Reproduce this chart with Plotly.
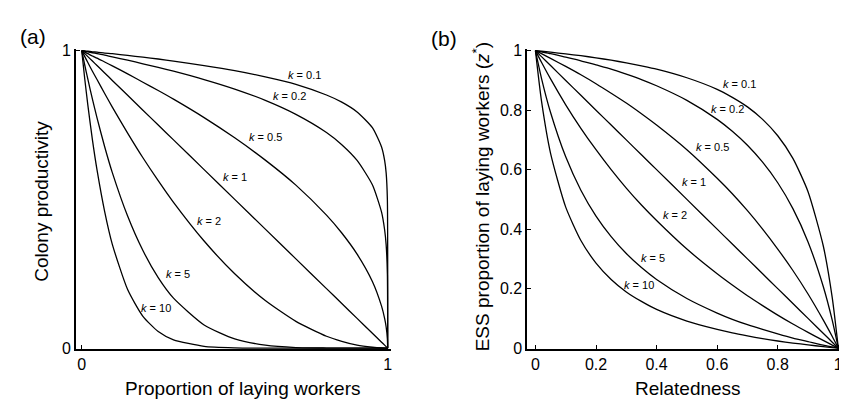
import plotly.graph_objects as go

# ---------------- data ----------------
k_labels = ["0.1", "0.2", "0.5", "1", "2", "5", "10"]

# panel (a): colony productivity vs proportion of laying workers
prop_laying = [0, 0.01, 0.02, 0.035, 0.05, 0.075, 0.1, 0.15, 0.2, 0.25, 0.3, 0.4, 0.5,
               0.6, 0.7, 0.8, 0.85, 0.9, 0.95, 0.98, 0.99, 0.995, 0.999, 1]
prod_k01 = [1, 0.999, 0.998, 0.996, 0.995, 0.992, 0.990, 0.984, 0.978, 0.972, 0.965, 0.950, 0.933,
            0.912, 0.887, 0.851, 0.827, 0.794, 0.741, 0.676, 0.631, 0.589, 0.501, 0]
prod_k02 = [1, 0.998, 0.996, 0.993, 0.990, 0.985, 0.979, 0.968, 0.956, 0.944, 0.931, 0.903, 0.871,
            0.833, 0.786, 0.725, 0.684, 0.631, 0.549, 0.457, 0.398, 0.347, 0.251, 0]
prod_k05 = [1, 0.995, 0.990, 0.982, 0.975, 0.962, 0.949, 0.922, 0.894, 0.866, 0.837, 0.775, 0.707,
            0.632, 0.548, 0.447, 0.387, 0.316, 0.224, 0.141, 0.100, 0.071, 0.032, 0]
prod_k1 = [1, 0.99, 0.98, 0.965, 0.95, 0.925, 0.9, 0.85, 0.8, 0.75, 0.7, 0.6, 0.5,
           0.4, 0.3, 0.2, 0.15, 0.1, 0.05, 0.02, 0.01, 0.005, 0.001, 0]
prod_k2 = [1, 0.980, 0.960, 0.931, 0.903, 0.856, 0.810, 0.723, 0.640, 0.563, 0.490, 0.360, 0.250,
           0.160, 0.090, 0.040, 0.023, 0.010, 0.003, 0.0004, 0.0001, 0, 0, 0]
prod_k5 = [1, 0.951, 0.904, 0.837, 0.774, 0.677, 0.590, 0.444, 0.328, 0.237, 0.168, 0.078, 0.031,
           0.010, 0.002, 0.0003, 0, 0, 0, 0, 0, 0, 0, 0]
prod_k10 = [1, 0.904, 0.817, 0.700, 0.599, 0.459, 0.349, 0.197, 0.107, 0.056, 0.028, 0.006, 0.001,
            0, 0, 0, 0, 0, 0, 0, 0, 0, 0, 0]

# panel (b): ESS proportion of laying workers vs relatedness
relatedness = [0, 0.02, 0.05, 0.1, 0.15, 0.2, 0.25, 0.3, 0.35, 0.4, 0.5, 0.6, 0.65, 0.7,
               0.75, 0.8, 0.85, 0.9, 0.95, 0.98, 1]
ess_k01 = [1, 0.998, 0.995, 0.989, 0.983, 0.976, 0.968, 0.959, 0.949, 0.938, 0.909, 0.870, 0.843,
           0.811, 0.769, 0.714, 0.638, 0.526, 0.345, 0.169, 0]
ess_k02 = [1, 0.996, 0.990, 0.978, 0.966, 0.952, 0.938, 0.921, 0.903, 0.882, 0.833, 0.769, 0.729,
           0.682, 0.625, 0.556, 0.469, 0.357, 0.208, 0.093, 0]
ess_k05 = [1, 0.990, 0.974, 0.947, 0.919, 0.889, 0.857, 0.824, 0.788, 0.750, 0.667, 0.571, 0.519,
           0.462, 0.400, 0.333, 0.261, 0.182, 0.095, 0.039, 0]
ess_k1 = [1, 0.98, 0.95, 0.9, 0.85, 0.8, 0.75, 0.7, 0.65, 0.6, 0.5, 0.4, 0.35,
          0.3, 0.25, 0.2, 0.15, 0.1, 0.05, 0.02, 0]
ess_k2 = [1, 0.961, 0.905, 0.818, 0.739, 0.667, 0.600, 0.538, 0.481, 0.429, 0.333, 0.250, 0.212,
          0.176, 0.143, 0.111, 0.081, 0.053, 0.026, 0.010, 0]
ess_k5 = [1, 0.907, 0.792, 0.643, 0.531, 0.444, 0.375, 0.318, 0.271, 0.231, 0.167, 0.118, 0.097,
          0.079, 0.063, 0.048, 0.034, 0.022, 0.010, 0.004, 0]
ess_k10 = [1, 0.831, 0.655, 0.474, 0.362, 0.286, 0.231, 0.189, 0.157, 0.130, 0.091, 0.063, 0.051,
           0.041, 0.032, 0.024, 0.017, 0.011, 0.005, 0.002, 0]

ticks_a = [0, 1]
ticks_b = [0, 0.2, 0.4, 0.6, 0.8, 1]
ticktext_b = ["0", "0.2", "0.4", "0.6", "0.8", "1"]

# label pixel positions (layout only)
label_pos_a = [(298, 62), (282, 84), (258, 127), (228, 168), (202, 214), (171, 269), (149, 304)]
label_pos_b = [(734, 72), (722, 98), (707, 137), (688, 173), (669, 208), (647, 252), (633, 280)]

# ---------------- figure ----------------
W, H = 847, 404


def px(x):
    return x / W


def py(y):
    return 1 - y / H


FONT = "Liberation Sans, Arial, Helvetica, sans-serif"
line_style = dict(color="black", width=1.3, shape="spline", smoothing=0.6)

fig = go.Figure()
for ys in [prod_k01, prod_k02, prod_k05, prod_k1, prod_k2, prod_k5, prod_k10]:
    fig.add_trace(go.Scatter(x=prop_laying, y=ys, mode="lines", line=line_style,
                             xaxis="x", yaxis="y", showlegend=False, hoverinfo="skip"))
for ys in [ess_k01, ess_k02, ess_k05, ess_k1, ess_k2, ess_k5, ess_k10]:
    fig.add_trace(go.Scatter(x=relatedness, y=ys, mode="lines", line=line_style,
                             xaxis="x2", yaxis="y2", showlegend=False, hoverinfo="skip"))

axis_common = dict(showline=True, linecolor="black", linewidth=1.5, ticks="inside",
                   ticklen=4, tickwidth=1.2, tickcolor="black", showgrid=False,
                   zeroline=False, tickfont=dict(size=16, color="black", family=FONT))

ydom = [py(346.9), py(35.5)]
fig.update_layout(
    width=W, height=H,
    margin=dict(l=0, r=0, t=0, b=0),
    paper_bgcolor="white", plot_bgcolor="white",
    font=dict(family=FONT, color="black"),
    xaxis=dict(domain=[px(68), px(384.1)], range=[-0.0195, 1.01], anchor="y",
               tickvals=ticks_a, ticktext=["0", "1"], **axis_common),
    yaxis=dict(domain=ydom, range=[-0.003, 1.005], anchor="x",
               tickvals=ticks_a, ticktext=["0", "1"], **axis_common),
    xaxis2=dict(domain=[px(521), px(834.8)], range=[-0.0273, 1.005], anchor="y2",
                tickvals=ticks_b, ticktext=ticktext_b, **axis_common),
    yaxis2=dict(domain=ydom, range=[-0.003, 1.005], anchor="x2",
                tickvals=ticks_b, ticktext=ticktext_b, **axis_common),
)

ann = []
for lab, (x, y) in zip(k_labels, label_pos_a):
    ann.append(dict(x=px(x), y=py(y), xref="paper", yref="paper", showarrow=False,
                    text=f"<i>k</i> = {lab}", font=dict(size=11, family=FONT, color="black"),
                    xanchor="center", yanchor="middle"))
for lab, (x, y) in zip(k_labels, label_pos_b):
    ann.append(dict(x=px(x), y=py(y), xref="paper", yref="paper", showarrow=False,
                    text=f"<i>k</i> = {lab}", font=dict(size=11, family=FONT, color="black"),
                    xanchor="center", yanchor="middle"))

# panel letters
ann.append(dict(x=px(25), y=py(22), xref="paper", yref="paper", showarrow=False, text="(a)",
                font=dict(size=21, family=FONT, color="black"), xanchor="center", yanchor="middle"))
ann.append(dict(x=px(438), y=py(24), xref="paper", yref="paper", showarrow=False, text="(b)",
                font=dict(size=21, family=FONT, color="black"), xanchor="center", yanchor="middle"))

# axis titles
ann.append(dict(x=px(236), y=py(388), xref="paper", yref="paper", showarrow=False,
                text="Proportion of laying workers", font=dict(size=19, family=FONT, color="black"),
                xanchor="center", yanchor="middle"))
ann.append(dict(x=px(682), y=py(388), xref="paper", yref="paper", showarrow=False,
                text="Relatedness", font=dict(size=19, family=FONT, color="black"),
                xanchor="center", yanchor="middle"))
ann.append(dict(x=px(34), y=py(193), xref="paper", yref="paper", showarrow=False,
                text="Colony productivity", textangle=-90,
                font=dict(size=19, family=FONT, color="black"),
                xanchor="center", yanchor="middle"))
ann.append(dict(x=px(475), y=py(189), xref="paper", yref="paper", showarrow=False,
                text="ESS proportion of laying workers (<i>z</i><sup>*</sup>)", textangle=-90,
                font=dict(size=19, family=FONT, color="black"),
                xanchor="center", yanchor="middle"))

fig.update_layout(annotations=ann)
fig.write_html("out.html")
